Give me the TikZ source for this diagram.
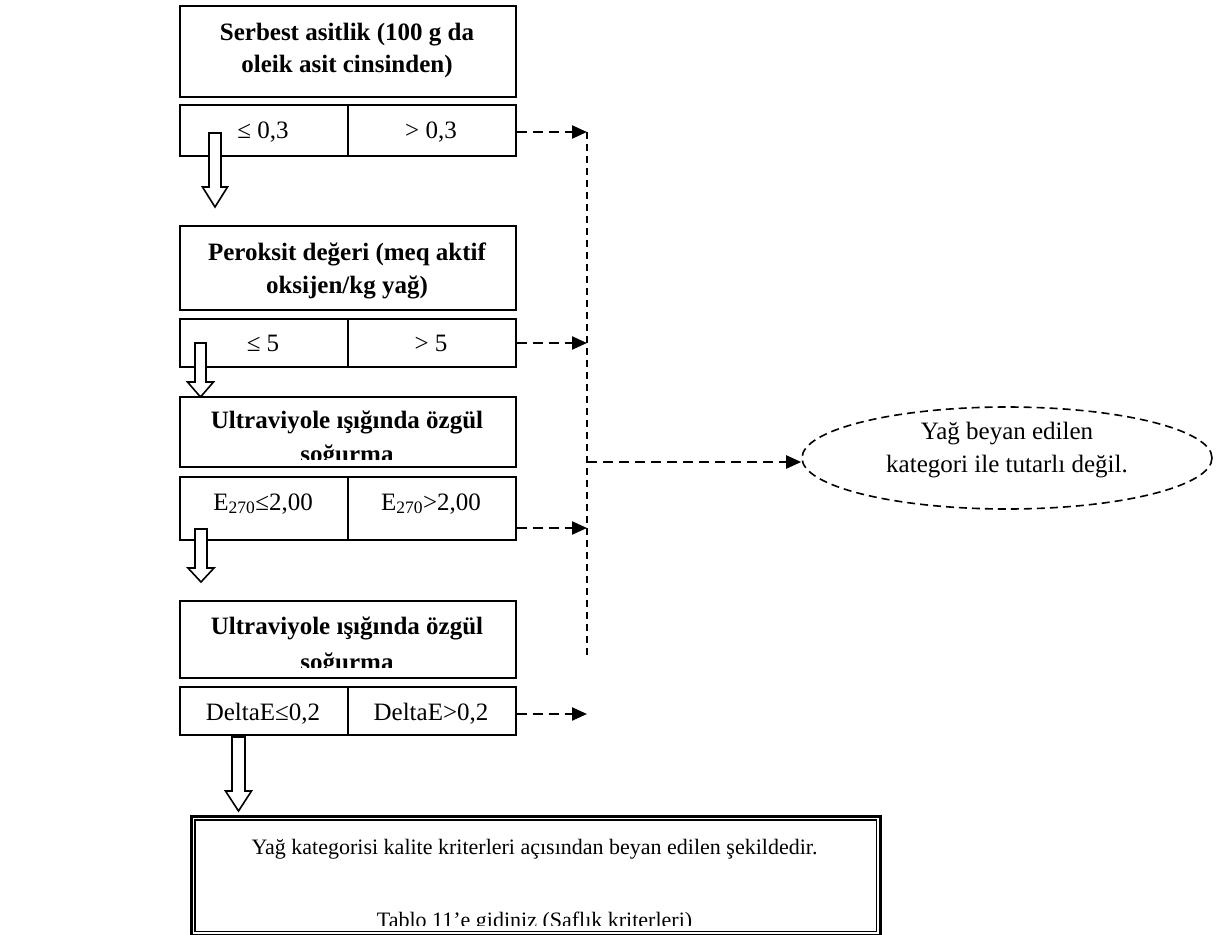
\documentclass[tikz,border=0pt]{standalone}
\usepackage{fontspec}
\setmainfont{Liberation Serif}
\usetikzlibrary{arrows.meta,shapes.geometric}

% hollow downward block arrow: centre x, top, head start, tip, shaft half width, head half width
\newcommand\hollowdown[6]{%
  \draw[blockarrow] (#1-#5,#2) -- (#1+#5,#2) -- (#1+#5,#3) -- (#1+#6,#3)
    -- (#1,#4) -- (#1-#6,#3) -- (#1-#5,#3) -- cycle;}

\begin{document}
\begin{tikzpicture}[x=1pt,y=-1pt,
  boxline/.style={draw, line width=1.8pt, rectangle, inner sep=0pt, anchor=north west},
  titlebox/.style={boxline, minimum width=336pt},
  cell/.style={boxline, minimum width=168pt},
  txt/.style={anchor=base, inner sep=0pt, font=\fontsize{25}{30}\selectfont},
  smalltxt/.style={anchor=base, inner sep=0pt, font=\fontsize{22}{26}\selectfont},
  ttl/.style={anchor=base, inner sep=0pt, font=\fontsize{25}{30}\selectfont\bfseries},
  blockarrow/.style={draw, fill=white, line width=1.6pt, line join=miter},
  dasharrow/.style={line width=2.3pt, dash pattern=on 10pt off 6pt,
    -{Triangle[length=15pt,width=13pt]}},
  rail/.style={line width=1.8pt, dash pattern=on 7pt off 5pt},
  ovalbox/.style={draw, ellipse, line width=1.6pt, dash pattern=on 8pt off 5pt,
    minimum width=410pt, minimum height=102pt, inner sep=0pt}]

\useasboundingbox (0,0) rectangle (1219,935);

% ---------- criterion boxes ----------
\node[titlebox, minimum height=91pt] (t1) at (179,5) {};
\node[titlebox, minimum height=84pt] (t2) at (179,225) {};
\node[titlebox, minimum height=70pt] (t3) at (179,396) {};
\node[titlebox, minimum height=77pt] (t4) at (179,600) {};

\node[ttl] (t1a) at (347,40) {Serbest asitlik (100 g da};
\node[ttl] (t1b) at (347,72) {oleik asit cinsinden)};
\node[ttl] (t2a) at (347,260) {Peroksit değeri (meq aktif};
\node[ttl] (t2b) at (347,293) {oksijen/kg yağ)};
\begin{scope}
  \clip (t3.north west) rectangle ([yshift=8pt]t3.south east);
  \node[ttl] (t3a) at (347,428) {Ultraviyole ışığında özgül};
  \node[ttl] (t3b) at (347,462) {soğurma};
\end{scope}
\begin{scope}
  \clip (t4.north west) rectangle ([yshift=11pt]t4.south east);
  \node[ttl] (t4a) at (347,634) {Ultraviyole ışığında özgül};
  \node[ttl] (t4b) at (347,670) {soğurma};
\end{scope}

% ---------- limit rows ----------
\node[cell, minimum height=51pt] (c1l) at (179,104) {};
\node[cell, minimum height=51pt] (c1r) at (347,104) {};
\node[cell, minimum height=48pt] (c2l) at (179,318) {};
\node[cell, minimum height=48pt] (c2r) at (347,318) {};
\node[cell, minimum height=63pt] (c3l) at (179,476) {};
\node[cell, minimum height=63pt] (c3r) at (347,476) {};
\node[cell, minimum height=48pt] (c4l) at (179,686) {};
\node[cell, minimum height=48pt] (c4r) at (347,686) {};

\node[txt] (c1lt) at (263,138) {≤ 0,3};
\node[txt] (c1rt) at (431,138) {> 0,3};
\node[txt] (c2lt) at (263,351) {≤ 5};
\node[txt] (c2rt) at (431,351) {> 5};
\node[txt] (c3lt) at (263,510) {E\textsubscript{270}≤2,00};
\node[txt] (c3rt) at (431,510) {E\textsubscript{270}>2,00};
\node[txt] (c4lt) at (263,720) {DeltaE≤0,2};
\node[txt] (c4rt) at (431,720) {DeltaE>0,2};

% ---------- hollow flow arrows ----------
\hollowdown{215}{133}{187}{207}{6}{12.5}
\hollowdown{200.5}{343}{382}{397}{5.5}{13}
\hollowdown{201}{529}{568}{582}{6}{13}
\hollowdown{238.5}{737}{791}{811}{6.5}{13}

% ---------- final box ----------
\node[draw, line width=2.6pt, rectangle, inner sep=0pt, anchor=north west,
      minimum width=689pt, minimum height=119pt] (fin) at (190,815) {};
\draw[line width=1.4pt] ([shift={(5pt,-5pt)}]fin.north west)
  rectangle ([shift={(-5pt,5pt)}]fin.south east);
\node[smalltxt] (fina) at (534.5,854) {Yağ kategorisi kalite kriterleri açısından beyan edilen şekildedir.};
\begin{scope}
  \clip (fin.north west) rectangle ([yshift=11pt]fin.south east);
  \node[smalltxt] (finb) at (534.5,927) {Tablo 11’e gidiniz (Saflık kriterleri)};
\end{scope}

% ---------- rejection ellipse ----------
\node[ovalbox] (ell) at (1007,458) {};
\node[txt] (ella) at (1007,439) {Yağ beyan edilen};
\node[txt] (ellb) at (1007,472) {kategori ile tutarlı değil.};

% ---------- dashed rejection path ----------
\coordinate (v1) at (587,132);
\coordinate (v2) at (587,343);
\coordinate (v3) at (587,528);
\coordinate (v4) at (587,714);
\coordinate (vj) at (587,462);
\coordinate (vb) at (587,659);

\draw[rail] (v1) -- (vb);
\draw[dasharrow] (c1r.east |- v1) -- (v1);
\draw[dasharrow] (c2r.east |- v2) -- (v2);
\draw[dasharrow] (c3r.east |- v3) -- (v3);
\draw[dasharrow] (c4r.east |- v4) -- (v4);
\draw[dasharrow] (vj) -- (ell.west |- vj);

\end{tikzpicture}
\end{document}
